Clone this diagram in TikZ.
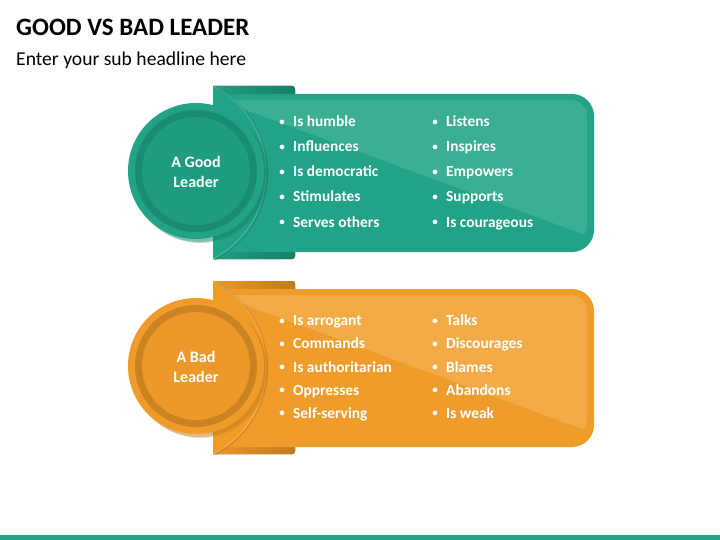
\documentclass[tikz,border=0pt]{standalone}
\usepackage{fontspec}
\setmainfont{Carlito}
\definecolor{tealM}{HTML}{22A286}
\definecolor{tealL}{HTML}{3AAF94}
\definecolor{tealD}{HTML}{167F66}
\definecolor{tealR}{HTML}{1A8C71}
\definecolor{tealI}{HTML}{1F9C80}
\definecolor{orM}{HTML}{F09C2B}
\definecolor{orL}{HTML}{F3AB48}
\definecolor{orD}{HTML}{C27A1A}
\definecolor{orR}{HTML}{CB8322}
\definecolor{orI}{HTML}{EC982A}
\tikzset{
  itemtext/.style={anchor=base west, text=white, font=\fontsize{15.4}{18}\selectfont\bfseries, inner sep=0pt},
  bul/.style={anchor=base, text=white, font=\fontsize{11}{13}\selectfont\bfseries, inner sep=0pt},
  circtext/.style={text=white, align=center, font=\fontsize{16}{19.5}\selectfont\bfseries, inner sep=0pt},
  titletext/.style={anchor=base west, text=black, font=\fontsize{25}{30}\selectfont\bfseries, inner sep=0pt},
  subtext/.style={anchor=base west, text=black, font=\fontsize{19.6}{24}\selectfont, inner sep=0pt},
}
% #1 shift, #2 main, #3 light, #4 dark, #5 ring, #6 inner
\newcommand\leaderpanel[6]{%
  \begin{scope}[yshift=-#1pt]
    % back tab
    \begin{scope}
      \clip (213,0) rectangle (720,300);
      \fill[rounded corners=3pt, left color=#2, middle color=#2, right color=#4] (200,86) rectangle (295,259);
    \end{scope}
    % main box with lighter inner panel
    \begin{scope}
      \clip (213,0) rectangle (720,300);
      \fill[#2, rounded corners=22pt] (150,94) rectangle (594,252);
      \begin{scope}
        \clip[rounded corners=16pt] (150,100) rectangle (587,241);
        \fill[#3] (213,98) -- (588,236) -- (720,236) -- (720,0) -- (213,0) -- cycle;
      \end{scope}
    \end{scope}
    % leaf
    \fill[#2] (213,86) arc[start angle=-63, end angle=63, radius=97] -- cycle;
    \draw[#4, line width=1.5pt, opacity=.45] (214.5,87) arc[start angle=-63, end angle=63, radius=97];
    \draw[white, line width=0.8pt, opacity=.25] (213,86) arc[start angle=-63, end angle=63, radius=97];
    % circle
    \fill[#4, opacity=.35] (199,174) circle (68);
    \fill[#4, opacity=.25] (200.5,175) circle (68);
    \fill[#2] (196,171) circle (68);
    \fill[#5] (196,171) circle (61);
    \fill[#6] (196,171) circle (54);
  \end{scope}
}
\begin{document}
\begin{tikzpicture}[x=1pt, y=-1pt]
  \useasboundingbox (0,0) rectangle (720,540);
  \fill[white] (0,0) rectangle (720,540);

  \node[titletext] (title) at (16,36) {GOOD VS BAD LEADER};
  \node[subtext] (subtitle) at (16,66) {Enter your sub headline here};

  \leaderpanel{0}{tealM}{tealL}{tealD}{tealR}{tealI}
  \leaderpanel{195}{orM}{orL}{orD}{orR}{orI}

  \node[circtext] (goodlabel) at (196,172) {A Good\\Leader};
  \node[circtext] (badlabel) at (196,367) {A Bad\\Leader};

  % good items
  \foreach \t [count=\i] in {Is humble, Influences, Is democratic, Stimulates, Serves others} {
    \pgfmathsetmacro\yy{127+25*(\i-1)}
    \node[bul] (gab\i) at (282,\yy-1.5) {•};
    \node[itemtext] (ga\i) at (293,\yy) {\t};
  }
  \foreach \t [count=\i] in {Listens, Inspires, Empowers, Supports, Is courageous} {
    \pgfmathsetmacro\yy{127+25*(\i-1)}
    \node[bul] (gbb\i) at (435,\yy-1.5) {•};
    \node[itemtext] (gb\i) at (446,\yy) {\t};
  }
  % bad items
  \foreach \t [count=\i] in {Is arrogant, Commands, Is authoritarian, Oppresses, Self-serving} {
    \pgfmathsetmacro\yy{325.8+23.15*(\i-1)}
    \node[bul] (bab\i) at (282,\yy-1.5) {•};
    \node[itemtext] (ba\i) at (293,\yy) {\t};
  }
  \foreach \t [count=\i] in {Talks, Discourages, Blames, Abandons, Is weak} {
    \pgfmathsetmacro\yy{325.8+23.15*(\i-1)}
    \node[bul] (bbb\i) at (435,\yy-1.5) {•};
    \node[itemtext] (bb\i) at (446,\yy) {\t};
  }

  % bottom bar
  \fill[tealM] (0,535) rectangle (720,540);
\end{tikzpicture}
\end{document}
